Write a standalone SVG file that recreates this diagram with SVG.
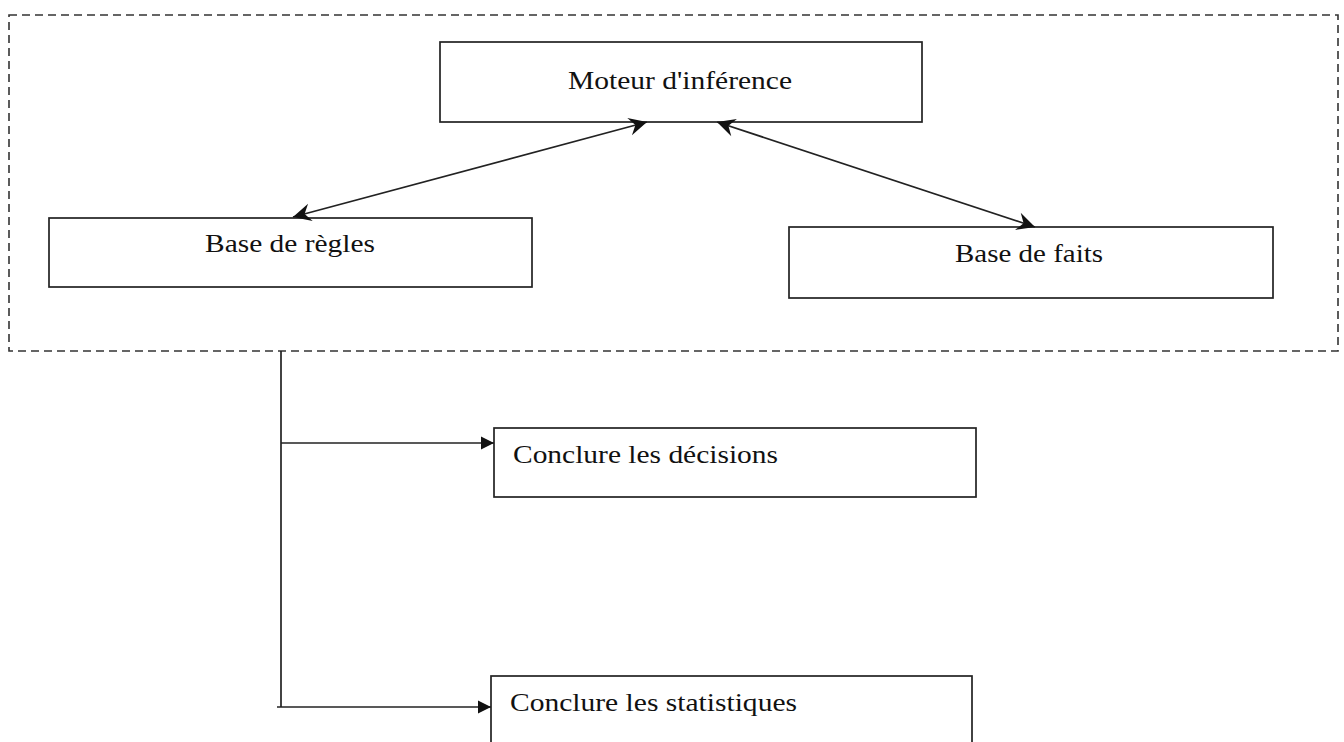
<svg xmlns="http://www.w3.org/2000/svg" width="1344" height="742" viewBox="0 0 1344 742">
<style>
.box{fill:#fff;stroke:#222;stroke-width:1.7}
.lbl{font-family:"Liberation Serif","Times New Roman",serif;font-size:26px;fill:#111}
.ln{fill:none;stroke:#222;stroke-width:1.7}
.frame{fill:none;stroke:#333;stroke-width:1.6;stroke-dasharray:8 5}
</style>
<defs>
<marker id="stealth" markerUnits="userSpaceOnUse" markerWidth="22" markerHeight="22" viewBox="-20 -11 22 22" refX="0" refY="0" orient="auto-start-reverse">
<path d="M0,0 L-18,-9 L-12,0 L-18,9 Z" fill="#111"/>
</marker>
<marker id="tri" markerUnits="userSpaceOnUse" markerWidth="16" markerHeight="16" viewBox="-14 -8 16 16" refX="0" refY="0" orient="auto">
<path d="M0,0 L-13,-6.5 L-13,6.5 Z" fill="#111"/>
</marker>
</defs>
<rect class="frame" x="9" y="15" width="1329" height="336"/>
<g id="moteur">
<rect class="box" x="440" y="42" width="482" height="80"/>
<text class="lbl" x="568" y="89" textLength="224" lengthAdjust="spacingAndGlyphs">Moteur d'inférence</text>
</g>
<g id="regles">
<rect class="box" x="49" y="218" width="483" height="69"/>
<text class="lbl" x="205" y="252" textLength="170" lengthAdjust="spacingAndGlyphs">Base de règles</text>
</g>
<g id="faits">
<rect class="box" x="789" y="227" width="484" height="71"/>
<text class="lbl" x="955" y="262" textLength="148" lengthAdjust="spacingAndGlyphs">Base de faits</text>
</g>
<g id="decisions">
<rect class="box" x="494" y="428" width="482" height="69"/>
<text class="lbl" x="513" y="463" textLength="265" lengthAdjust="spacingAndGlyphs">Conclure les décisions</text>
</g>
<g id="statistiques">
<rect class="box" x="491" y="676" width="481" height="80"/>
<text class="lbl" x="510" y="711" textLength="287" lengthAdjust="spacingAndGlyphs">Conclure les statistiques</text>
</g>
<g id="connectors">
<line class="ln" x1="293" y1="217" x2="647" y2="122" marker-start="url(#stealth)" marker-end="url(#stealth)"/>
<line class="ln" x1="717" y1="122" x2="1035" y2="227" marker-start="url(#stealth)" marker-end="url(#stealth)"/>
<line class="ln" x1="281" y1="351" x2="281" y2="707"/>
<line class="ln" x1="281" y1="443" x2="494" y2="443" marker-end="url(#tri)"/>
<line class="ln" x1="277" y1="707" x2="491" y2="707" marker-end="url(#tri)"/>
</g>
</svg>
